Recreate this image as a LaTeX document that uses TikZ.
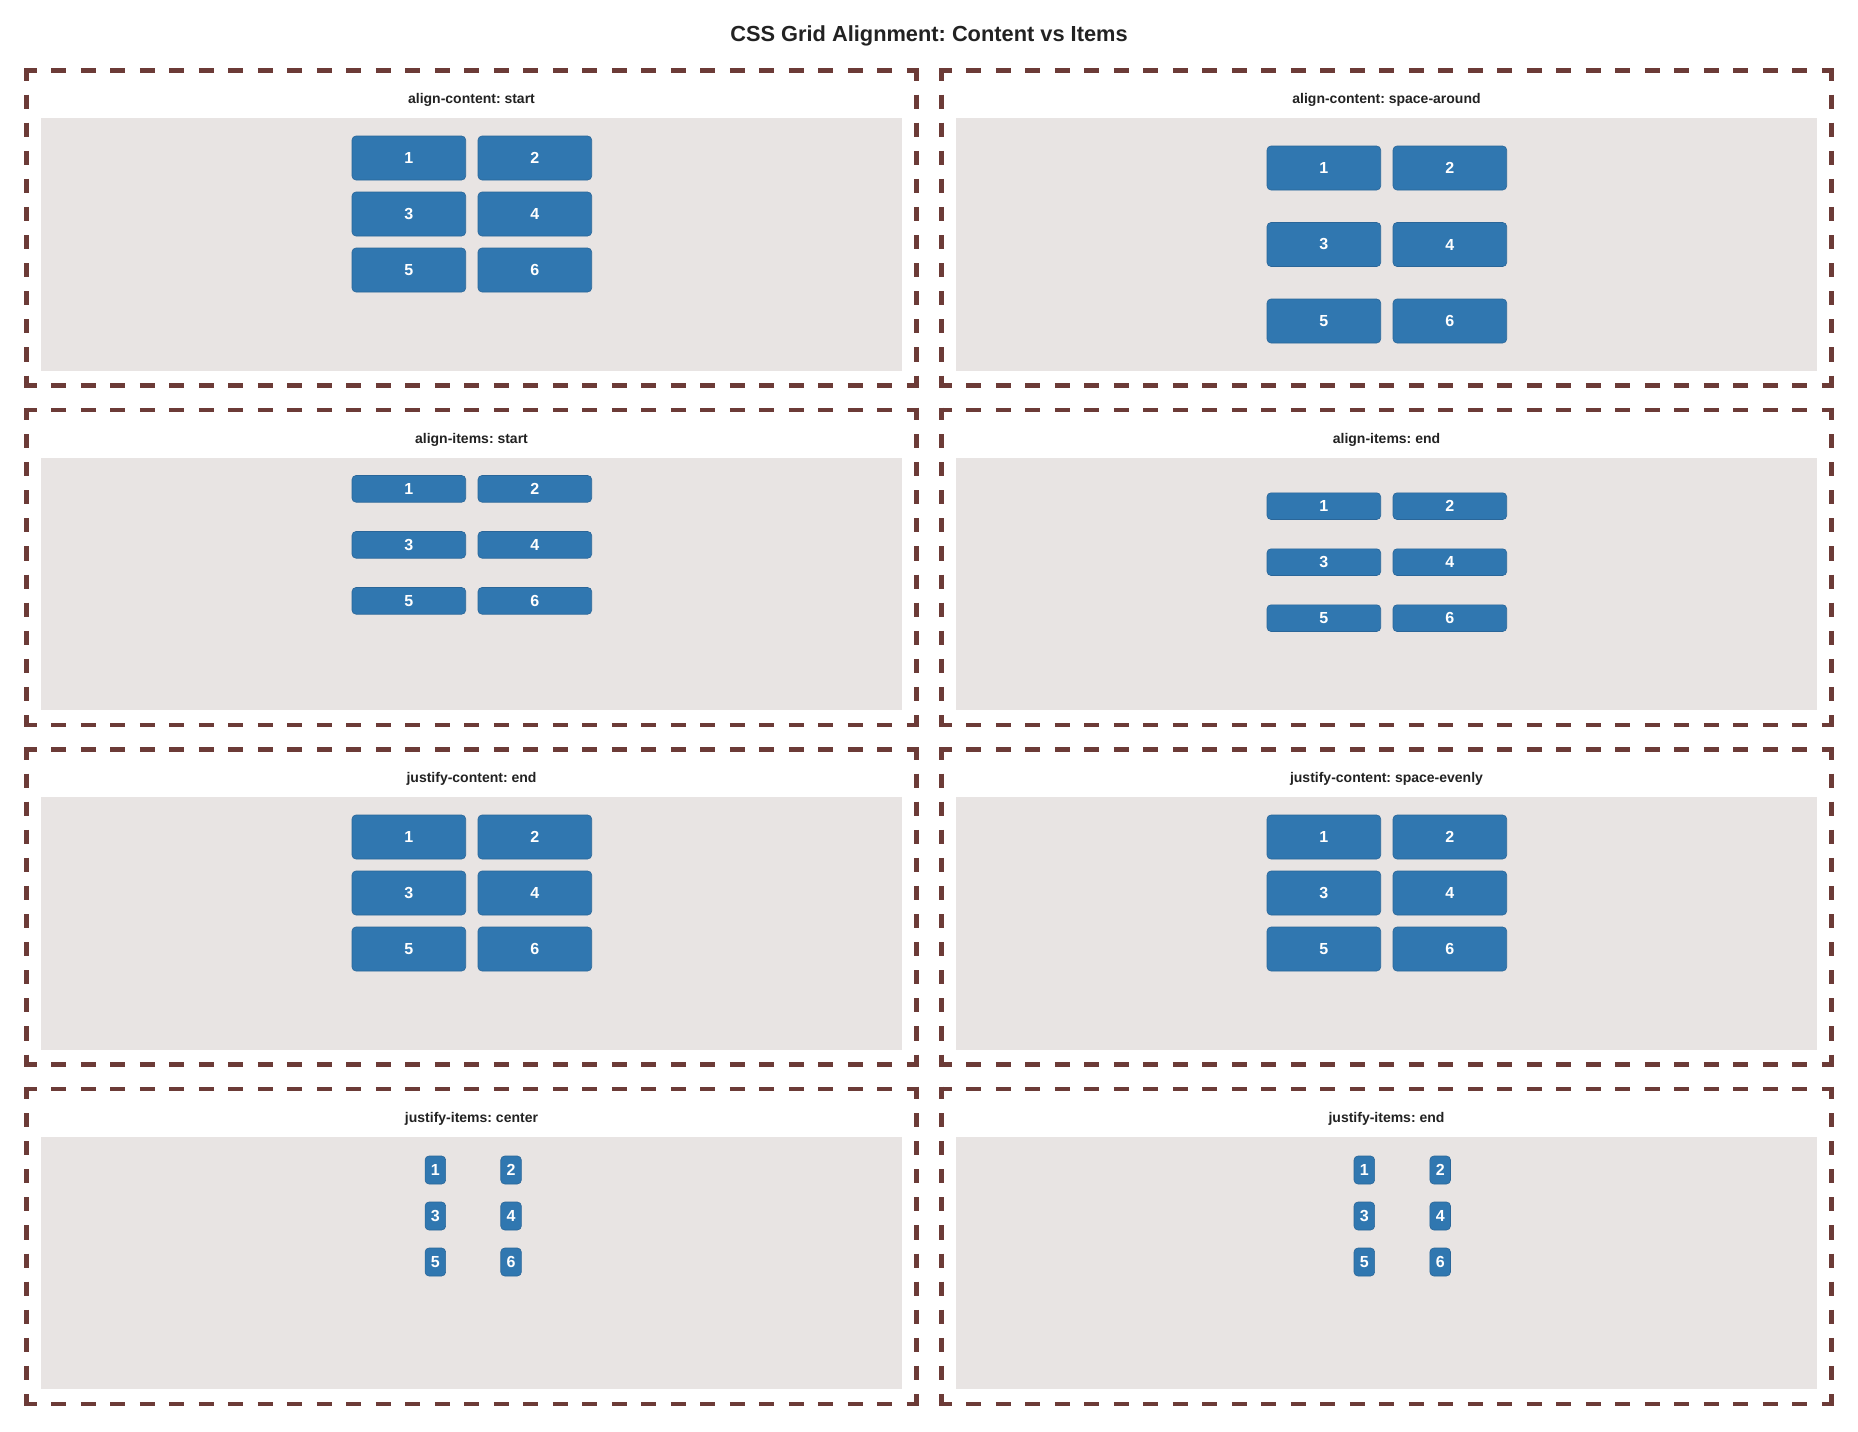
\documentclass[tikz,border=0pt]{standalone}
\usepackage{fontspec}
\setmainfont{Liberation Sans}
\frenchspacing
\definecolor{itemblue}{HTML}{3077B0}
\definecolor{itemedge}{HTML}{2A6699}
\definecolor{panelgray}{HTML}{E8E4E3}
\definecolor{dashbrown}{HTML}{6C3B37}
\definecolor{titlegray}{HTML}{222222}
\tikzset{
  item/.style={draw=itemedge, line width=0.6pt, fill=itemblue, rounded corners=4pt,
    inner sep=0pt, text=white, font=\fontsize{16}{16}\selectfont\bfseries},
  hside/.style={draw=dashbrown, line width=4.6pt, dash pattern=on 14.75pt off 14.75pt, dash phase=2.45pt},
  vside/.style={draw=dashbrown, line width=4.6pt, dash pattern=on 14.05pt off 14.05pt, dash phase=1.75pt},
  subtitle/.style={anchor=base, inner sep=0pt, text=titlegray, font=\fontsize{14}{16}\selectfont\bfseries},
  maintitle/.style={anchor=base, inner sep=0pt, text=titlegray, font=\fontsize{21.8}{24}\selectfont\bfseries},
}
\newcommand{\gpanel}[4]{%
  \pgfmathsetmacro{\pXl}{#2}\pgfmathsetmacro{\pXr}{#2+890}%
  \pgfmathsetmacro{\pYt}{#3}\pgfmathsetmacro{\pYb}{#3+315}%
  \fill[panelgray] (\pXl+14.5,\pYt+47.5) rectangle (\pXr-14.5,\pYb-15);
  \draw[hside] (\pXl-2.3,\pYt) -- (\pXr+2.3,\pYt);
  \draw[hside] (\pXl-2.3,\pYb) -- (\pXr+2.3,\pYb);
  \draw[vside] (\pXl,\pYt-2.3) -- (\pXl,\pYb+2.3);
  \draw[vside] (\pXr,\pYt-2.3) -- (\pXr,\pYb+2.3);
  \node[subtitle] (#1t) at (\pXl+445,\pYt+33) {#4};
}
\newcommand{\gitems}[8]{%
  \node[item, minimum width=#7pt, minimum height=#8pt] (#1-1) at (#2,#4) {1};
  \node[item, minimum width=#7pt, minimum height=#8pt] (#1-2) at (#3,#4) {2};
  \node[item, minimum width=#7pt, minimum height=#8pt] (#1-3) at (#2,#5) {3};
  \node[item, minimum width=#7pt, minimum height=#8pt] (#1-4) at (#3,#5) {4};
  \node[item, minimum width=#7pt, minimum height=#8pt] (#1-5) at (#2,#6) {5};
  \node[item, minimum width=#7pt, minimum height=#8pt] (#1-6) at (#3,#6) {6};
}
\begin{document}
\begin{tikzpicture}[x=1pt,y=-1pt]
  \fill[white] (0,0) rectangle (1858,1432);
  \useasboundingbox (0,0) rectangle (1858,1432);
  \node[maintitle] (title) at (929,41) {CSS Grid Alignment: Content vs Items};
  % panels
  \gpanel{p1}{26.5}{70.5}{align-content: start}
  \gpanel{p2}{941.5}{70.5}{align-content: space-around}
  \gpanel{p3}{26.5}{410}{align-items: start}
  \gpanel{p4}{941.5}{410}{align-items: end}
  \gpanel{p5}{26.5}{749.5}{justify-content: end}
  \gpanel{p6}{941.5}{749.5}{justify-content: space-evenly}
  \gpanel{p7}{26.5}{1089}{justify-items: center}
  \gpanel{p8}{941.5}{1089}{justify-items: end}
  % items
  \gitems{a}{408.85}{534.85}{158}{214}{270}{113.7}{44}
  \gitems{b}{1323.85}{1449.85}{168}{244.5}{321}{113.7}{44}
  \gitems{c}{408.85}{534.85}{488.85}{544.85}{600.85}{113.7}{26.7}
  \gitems{d}{1323.85}{1449.85}{506.15}{562.15}{618.15}{113.7}{26.7}
  \gitems{e}{408.85}{534.85}{837}{893}{949}{113.7}{44}
  \gitems{f}{1323.85}{1449.85}{837}{893}{949}{113.7}{44}
  \gitems{g}{435.35}{511.05}{1170}{1216}{1262}{20.6}{28}
  \gitems{h}{1364.3}{1440.2}{1170}{1216}{1262}{20.6}{28}
\end{tikzpicture}
\end{document}
